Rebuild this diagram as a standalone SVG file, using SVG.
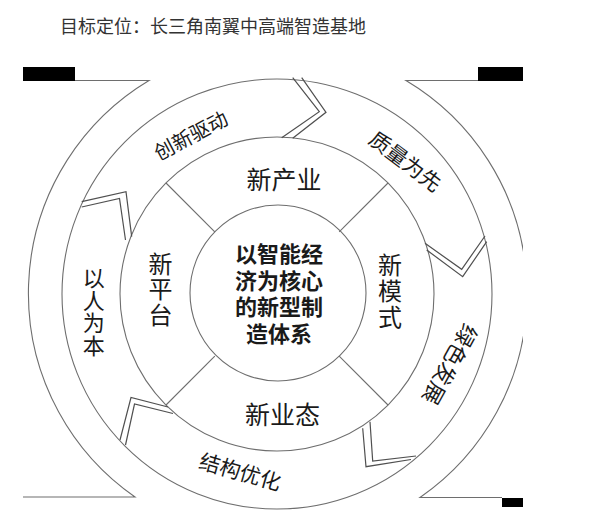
<svg xmlns="http://www.w3.org/2000/svg" width="604" height="522" viewBox="0 0 604 522">
<style>
text{font-family:"Liberation Sans","Noto Sans CJK SC",sans-serif;fill:#1a1a1a}
.ln{fill:none;stroke:#6e6e6e;stroke-width:1.1}
.ch{fill:none;stroke:#505050;stroke-width:1.2;stroke-linejoin:miter}
.bar{fill:#000}
.lbl{font-size:25px;text-anchor:middle}
.vl{font-size:24px;text-anchor:middle}
.band{font-size:21px;text-anchor:middle}
.core{font-size:22px;font-weight:bold;text-anchor:middle}
</style>
<defs>
<clipPath id="clip"><rect x="0" y="0" width="523" height="522"/></clipPath>
</defs>
<rect width="604" height="522" fill="#fff"/>
<text x="60" y="33" style="font-size:18px;fill:#333">目标定位：长三角南翼中高端智造基地</text>

<g id="outer-frame" clip-path="url(#clip)">
<rect class="bar" x="23" y="67" width="52" height="14"/>
<path class="ln" d="M75 80.5 L149 80.5 A248 248 0 0 0 135 497 L23 497"/>
<rect class="bar" x="478" y="67" width="45" height="14"/>
<path class="ln" d="M478 80.5 L406 80.5 A248 248 0 0 1 420 497.5 L502 497.5"/>
<rect class="bar" x="502" y="498" width="21" height="9"/>
</g>

<g id="band-rings">
<circle class="ln" cx="277" cy="294" r="215"/>
<circle class="ln" cx="277" cy="294" r="157"/>
</g>

<g id="connectors">
<polyline class="ch" points="292.7,77.7 319.3,111.7 281.7,137.7"/>
<polyline class="ch" points="301.7,77.7 326,112.3 292.7,138.3"/>
<polyline class="ch" points="425,243.3 461.7,269.3 485,236"/>
<polyline class="ch" points="426.7,250 462.7,276.7 486.7,241.7"/>
<polyline class="ch" points="362.7,428.3 366,466.7 411,459.5"/>
<polyline class="ch" points="370,421.7 372.7,461 416,456"/>
<polyline class="ch" points="120,440 131,397.5 168,407"/>
<polyline class="ch" points="125.5,445 134.5,404 173,413.5"/>
<polyline class="ch" points="81.7,201.7 126,191.7 131.7,236.7"/>
<polyline class="ch" points="81.7,207 119.5,198.5 125.5,240"/>
<line class="ln" x1="214.8" y1="231.8" x2="166" y2="183"/>
<line class="ln" x1="339.2" y1="231.8" x2="388" y2="183"/>
<line class="ln" x1="339.2" y1="356.2" x2="388" y2="405"/>
<line class="ln" x1="214.8" y1="356.2" x2="166" y2="405"/>
</g>

<g id="core">
<circle class="ln" cx="278" cy="293" r="88"/>
<text class="core" x="279" y="262">以智能经</text>
<text class="core" x="279" y="288.5">济为核心</text>
<text class="core" x="279" y="315">的新型制</text>
<text class="core" x="279" y="342">造体系</text>
</g>

<g id="sector-top"><text class="lbl" x="284" y="189">新产业</text></g>
<g id="sector-bottom"><text class="lbl" x="282.5" y="424">新业态</text></g>
<g id="sector-left">
<text class="vl" x="160.5" y="272.5">新</text>
<text class="vl" x="160.5" y="298">平</text>
<text class="vl" x="160.5" y="323.5">台</text>
</g>
<g id="sector-right">
<text class="vl" x="390" y="274">新</text>
<text class="vl" x="390" y="300">模</text>
<text class="vl" x="390" y="326">式</text>
</g>

<g id="seg-innovation"><text class="band" style="font-size:20px" transform="translate(191,136) rotate(-28)" x="0" y="7">创新驱动</text></g>
<g id="seg-quality"><text class="band" transform="translate(405,162) rotate(37)" x="0" y="7">质量为先</text></g>
<g id="seg-green"><text class="band" style="font-size:22px" transform="translate(449,364) rotate(119)" x="0" y="7">绿色发展</text></g>
<g id="seg-structure"><text class="band" transform="translate(240,472.5) rotate(16)" x="0" y="7">结构优化</text></g>
<g id="seg-people">
<text class="band" style="font-size:22px" x="93.7" y="286">以</text>
<text class="band" style="font-size:22px" x="93.7" y="308.7">人</text>
<text class="band" style="font-size:22px" x="93.7" y="331.3">为</text>
<text class="band" style="font-size:22px" x="93.7" y="354">本</text>
</g>
</svg>
